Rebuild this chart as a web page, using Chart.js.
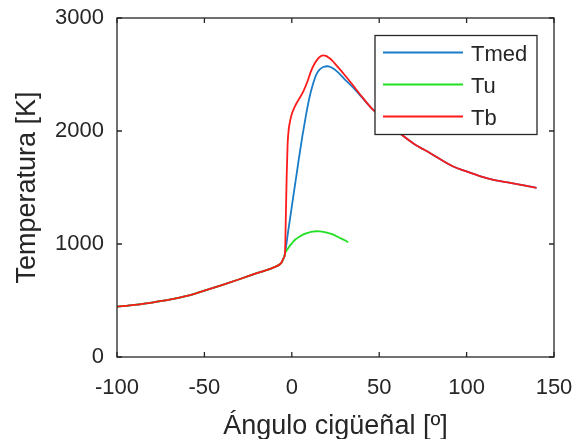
<!DOCTYPE html>
<html>
<head>
<meta charset="utf-8">
<script src="https://cdn.jsdelivr.net/npm/chart.js@4.4.0/dist/chart.umd.min.js"></script>
<style>
  body { margin: 0; background: #fff; }
</style>
</head>
<body>
<canvas id="tempChart" width="576" height="439"></canvas>
<script>
// Crank angle [deg] vs temperature [K]

// Compression stroke: the three temperatures are the same until ignition
const compAngle = [-100, -90, -80, -70, -60, -50, -40, -30, -20, -10, -6, -4.5];
const compTemp  = [445, 462, 482, 507, 540, 588, 637, 688, 742, 795, 833, 880];

// Expansion tail shared by Tmed and Tb once they merge
const tailAngle = [50, 55, 64, 70, 79, 92, 100, 108, 116, 125, 132, 140];
const tailTemp  = [2140, 2074, 1953, 1886, 1806, 1688, 1642, 1599, 1566, 1541, 1520, 1497];

// Mean temperature during combustion
const tmedAngle = [-3.9, -2, 0, 2, 4, 6, 8, 10, 12, 14, 16, 18, 20.5, 23, 26, 30, 35, 40, 46];
const tmedTemp  = [915, 1120, 1330, 1540, 1750, 1950, 2130, 2290, 2410, 2500, 2545, 2566, 2573, 2560, 2525, 2462, 2385, 2300, 2195];

// Unburned zone (ends when the charge is fully burned)
const tuAngle = [-3.9, -2, 0, 2, 4.7, 7, 10, 12, 14.2, 16, 18, 20, 23.8, 27, 30, 32.3];
const tuTemp  = [915, 965, 1005, 1040, 1068, 1088, 1103, 1110, 1113, 1112, 1108, 1100, 1083, 1058, 1035, 1015];

// Burned zone
const tbAngle = [-3.9, -3.4, -2.9, -2.4, -1.8, -1, 0, 2, 4, 6.6, 9, 11, 13, 15, 16.5, 18, 19.5, 21, 23, 26, 30, 35, 40, 46];
const tbTemp  = [915, 1250, 1620, 1880, 2010, 2085, 2150, 2225, 2280, 2350, 2440, 2530, 2595, 2640, 2662, 2670, 2665, 2650, 2625, 2572, 2500, 2405, 2305, 2195];

const seriesLabels = ['Tmed', 'Tu', 'Tb'];
const seriesColors = ['#1a7cc8', '#22e022', '#ff1a1a'];

const xTicks = [-100, -50, 0, 50, 100, 150];
const yTicks = [0, 1000, 2000, 3000];

const axisColor = '#262626';
const fontFamily = "'Liberation Sans', Arial, sans-serif";

function toPoints(angles, temps) {
  return angles.map((a, i) => ({ x: a, y: temps[i] }));
}

const tmedData = toPoints(compAngle, compTemp).concat(toPoints(tmedAngle, tmedTemp), toPoints(tailAngle, tailTemp));
const tuData = toPoints(compAngle, compTemp).concat(toPoints(tuAngle, tuTemp));
const tbData = toPoints(compAngle, compTemp).concat(toPoints(tbAngle, tbTemp), toPoints(tailAngle, tailTemp));

// Box around the plot area with inward tick marks on all four sides
const axesBox = {
  id: 'axesBox',
  afterDatasetsDraw(chart) {
    const { ctx, chartArea: a, scales: { x, y } } = chart;
    const len = 5;
    ctx.save();
    ctx.strokeStyle = axisColor;
    ctx.lineWidth = 1.3;
    ctx.strokeRect(a.left, a.top, a.right - a.left, a.bottom - a.top);
    ctx.beginPath();
    xTicks.forEach(v => {
      const px = x.getPixelForValue(v);
      ctx.moveTo(px, a.bottom); ctx.lineTo(px, a.bottom - len);
      ctx.moveTo(px, a.top); ctx.lineTo(px, a.top + len);
    });
    yTicks.forEach(v => {
      const py = y.getPixelForValue(v);
      ctx.moveTo(a.left, py); ctx.lineTo(a.left + len, py);
      ctx.moveTo(a.right, py); ctx.lineTo(a.right - len, py);
    });
    ctx.stroke();
    ctx.restore();
  }
};

// Legend box in the upper right corner of the plot
const legendBox = {
  id: 'legendBox',
  afterDraw(chart) {
    const { ctx, chartArea: a } = chart;
    const w = 162, h = 99;
    const bx = a.right - 17 - w;
    const by = a.top + 17.5;
    ctx.save();
    ctx.fillStyle = '#fff';
    ctx.fillRect(bx, by, w, h);
    ctx.strokeStyle = axisColor;
    ctx.lineWidth = 1.3;
    ctx.strokeRect(bx, by, w, h);
    ctx.font = '22px ' + fontFamily;
    ctx.textBaseline = 'middle';
    ctx.fillStyle = axisColor;
    chart.data.datasets.forEach((ds, i) => {
      const ly = by + 17 + i * 32;
      ctx.strokeStyle = ds.borderColor;
      ctx.lineWidth = 1.8;
      ctx.beginPath();
      ctx.moveTo(bx + 8, ly);
      ctx.lineTo(bx + 88, ly);
      ctx.stroke();
      ctx.fillText(ds.label, bx + 96, ly + 2);
    });
    ctx.restore();
  }
};

// Fixed axis sizes; tick labels may overhang the plot edges freely
function fixScale(size) {
  return s => {
    if (s.isHorizontal()) s.height = size; else s.width = size;
    s.paddingTop = 0;
    s.paddingBottom = 0;
    s.paddingLeft = 0;
    s.paddingRight = 0;
  };
}

const ctx = document.getElementById('tempChart').getContext('2d');
new Chart(ctx, {
  type: 'line',
  data: {
    // Tb has the lowest order so it is painted over the other two
    datasets: [tmedData, tuData, tbData].map((d, i) => ({
      label: seriesLabels[i],
      data: d,
      order: 2 - i,
      borderColor: seriesColors[i],
      backgroundColor: seriesColors[i],
      borderWidth: 1.8,
      pointRadius: 0,
      cubicInterpolationMode: 'monotone',
      fill: false
    }))
  },
  options: {
    responsive: false,
    animation: false,
    layout: { padding: { top: 18, right: 22, left: 0, bottom: 0 } },
    plugins: {
      legend: { display: false },
      tooltip: { enabled: false }
    },
    scales: {
      x: {
        type: 'linear',
        min: -100,
        max: 150,
        afterBuildTicks: s => { s.ticks = xTicks.map(v => ({ value: v })); },
        afterFit: fixScale(82),
        ticks: {
          padding: 18,
          color: axisColor,
          font: { family: fontFamily, size: 22 },
          callback: v => String(v)
        },
        grid: { display: false, drawTicks: false },
        border: { display: false },
        title: {
          display: true,
          text: 'Ángulo cigüeñal [º]',
          color: axisColor,
          font: { family: fontFamily, size: 27, lineHeight: 1 },
          padding: { top: 0, bottom: -1 }
        }
      },
      y: {
        type: 'linear',
        min: 0,
        max: 3000,
        afterBuildTicks: s => { s.ticks = yTicks.map(v => ({ value: v })); },
        afterFit: fixScale(117),
        ticks: {
          padding: 13,
          color: axisColor,
          font: { family: fontFamily, size: 22 },
          callback: v => String(v)
        },
        grid: { display: false, drawTicks: false },
        border: { display: false },
        title: {
          display: true,
          text: 'Temperatura [K]',
          color: axisColor,
          font: { family: fontFamily, size: 27 },
          padding: { top: 11, bottom: 0 }
        }
      }
    }
  },
  plugins: [axesBox, legendBox]
});
</script>
</body>
</html>
